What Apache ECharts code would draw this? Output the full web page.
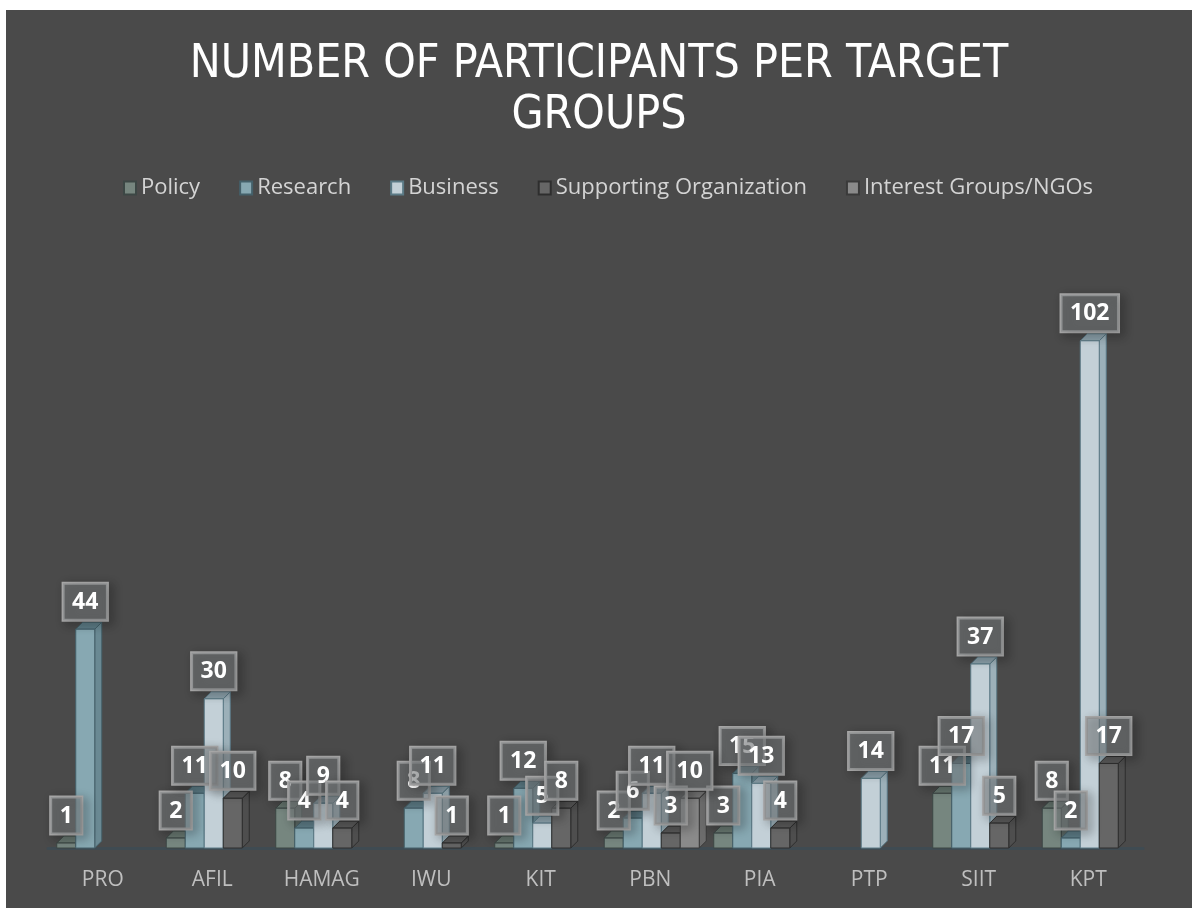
<!DOCTYPE html>
<html>
<head>
<meta charset="utf-8">
<script src="https://cdn.jsdelivr.net/npm/echarts@6/dist/echarts.min.js"></script>
<style>
html,body{margin:0;padding:0;background:#ffffff;width:1192px;height:908px;overflow:hidden;}
#c{position:absolute;left:6px;top:10px;width:1186px;height:898px;}
</style>
</head>
<body>
<div id="c"></div>
<script>
// ---- data ----
const categories = ['PRO','AFIL','HAMAG','IWU','KIT','PBN','PIA','PTP','SIIT','KPT'];
const seriesNames = ['Policy','Research','Business','Supporting Organization','Interest Groups/NGOs'];
const policy     = [1, 2, 8, null, 1, 2, 3, null, 11, 8];
const research   = [44, 11, 4, 8, 12, 6, 15, null, 17, 2];
const business   = [null, 30, 9, 11, 5, 11, 13, 14, 37, 102];
const supporting = [null, 10, 4, 1, 8, 3, 4, null, 5, 17];
const interest   = [null, null, null, null, null, 10, null, null, null, null];
const seriesValues = [policy, research, business, supporting, interest];

// ---- styles ----
const palette = [
  {front:'#76867f', side:'#5b6864', top:'#67766f', stroke:'#3c4745'},
  {front:'#87a8b2', side:'#6a8993', top:'#5d7c86', stroke:'#44606a'},
  {front:'#c3d0d7', side:'#9cb0b9', top:'#8ca1ab', stroke:'#5b7a86'},
  {front:'#666666', side:'#4e4e4e', top:'#595959', stroke:'#2e2e2e'},
  {front:'#8a8a8a', side:'#6c6c6c', top:'#7a7a7a', stroke:'#3a3a3a'}
];
const SLOT = 19 / 109.5;     // fraction of band per series slot
const START = 46 / 109.5;    // group start offset from category center
const DEPTH_X = 7, DEPTH_Y = 7;

function geom(api, ci, v, si) {
  const base = api.coord([ci, 0]);
  const top = api.coord([ci, v]);
  const band = api.size([1, 0])[0];
  const w = band * SLOT;
  const x0 = base[0] - band * START + si * w;
  return {x0: x0, w: w, yb: base[1], yt: top[1]};
}

function makeBarSeries(si) {
  const p = palette[si];
  const data = [];
  seriesValues[si].forEach(function (v, i) { if (v != null) data.push([i, v]); });
  return {
    name: seriesNames[si],
    type: 'custom',
    z: 2,
    itemStyle: {color: p.front, borderColor: p.stroke, borderWidth: 1},
    encode: {x: 0, y: 1},
    data: data,
    renderItem: function (params, api) {
      const g = geom(api, api.value(0), api.value(1), si);
      const x1 = g.x0 + g.w;
      const ln = {stroke: p.stroke, lineWidth: 1};
      return {
        type: 'group',
        children: [
          {type: 'polygon', shape: {points: [[x1, g.yt], [x1 + DEPTH_X, g.yt - DEPTH_Y], [x1 + DEPTH_X, g.yb - DEPTH_Y], [x1, g.yb]]},
           style: Object.assign({fill: p.side}, ln)},
          {type: 'polygon', shape: {points: [[g.x0, g.yt], [g.x0 + DEPTH_X, g.yt - DEPTH_Y], [x1 + DEPTH_X, g.yt - DEPTH_Y], [x1, g.yt]]},
           style: Object.assign({fill: p.top}, ln)},
          {type: 'rect', shape: {x: g.x0, y: g.yt, width: g.w, height: g.yb - g.yt},
           style: Object.assign({fill: p.front}, ln)}
        ]
      };
    }
  };
}

const labelData = [];
seriesValues.forEach(function (arr, si) {
  arr.forEach(function (v, i) { if (v != null) labelData.push([i, v, si]); });
});

const labelSeries = {
  name: 'labels',
  type: 'custom',
  z: 5,
  silent: true,
  encode: {x: 0, y: 1},
  data: labelData,
  renderItem: function (params, api) {
    const si = api.value(2);
    const v = api.value(1);
    const g = geom(api, api.value(0), v, si);
    return {
      type: 'text',
      style: {
        x: g.x0 + g.w / 2,
        y: g.yt - 9,
        text: String(v),
        align: 'center',
        verticalAlign: 'bottom',
        fill: '#ffffff',
        font: 'bold 23px "Open Sans", "DejaVu Sans", sans-serif',
        lineHeight: 24,
        backgroundColor: 'rgba(128,132,134,0.5)',
        borderColor: '#a8a8a8',
        borderWidth: 1.5,
        padding: [7, 9, 6, 9],
        shadowBlur: 10,
        shadowColor: 'rgba(0,0,0,0.35)',
        shadowOffsetX: 4,
        shadowOffsetY: 3
      }
    };
  }
};

const chart = echarts.init(document.getElementById('c'));
chart.setOption({
  backgroundColor: '#4a4a4a',
  animation: false,
  title: {
    text: 'NUMBER OF PARTICIPANTS PER TARGET\nGROUPS',
    left: 'center',
    top: 30,
    padding: [0, 0, 0, 8],
    textStyle: {
      color: '#ffffff',
      fontSize: 46,
      fontWeight: 'normal',
      lineHeight: 51,
      fontFamily: '"Liberation Sans Narrow", "DejaVu Sans Condensed", Roboto, sans-serif'
    }
  },
  legend: {
    data: seriesNames,
    left: 112,
    top: 162,
    icon: 'rect',
    itemWidth: 12,
    itemHeight: 13,
    itemGap: 39,
    textStyle: {color: '#d4d4d4', fontSize: 22, fontFamily: '"Open Sans", sans-serif'}
  },
  grid: {left: 42, right: 49, top: 291, bottom: 60},
  xAxis: {
    type: 'category',
    data: categories,
    axisTick: {show: false},
    axisLine: {show: true, lineStyle: {color: '#3f4b52', width: 3}},
    axisLabel: {color: '#bfbfbf', fontSize: 21, margin: 22, fontFamily: '"Open Sans", sans-serif'},
    splitLine: {show: false}
  },
  yAxis: {
    type: 'value',
    min: 0,
    max: 110,
    show: false,
    splitLine: {show: false}
  },
  series: [0, 1, 2, 3, 4].map(makeBarSeries).concat([labelSeries])
});
</script>
</body>
</html>
